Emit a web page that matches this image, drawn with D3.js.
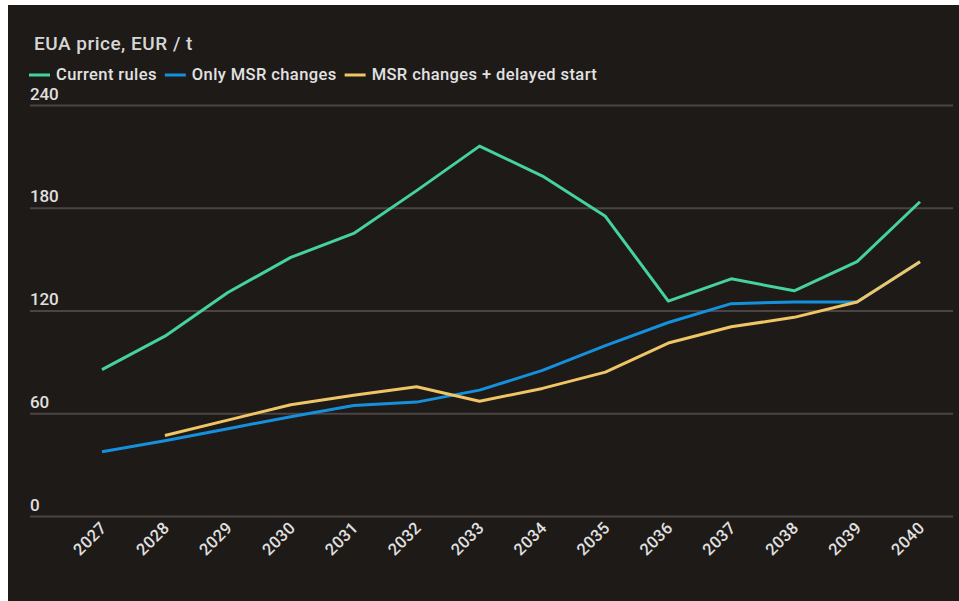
<!DOCTYPE html>
<html>
<head>
<meta charset="utf-8">
<script src="https://cdn.jsdelivr.net/npm/d3@7"></script>
<style>
  html, body { margin: 0; padding: 0; background: #ffffff; }
  svg { display: block; }
  text { font-family: Roboto, "Liberation Sans", Arial, sans-serif; }
</style>
</head>
<body>
<svg id="chart" width="959" height="601"></svg>
<script>
const years = ["2027","2028","2029","2030","2031","2032","2033","2034","2035","2036","2037","2038","2039","2040"];
const currentRules = [85.5, 105, 130.5, 151, 165, 190, 216, 198.5, 175, 125.5, 138.5, 131.5, 148.5, 183.5];
const onlyMSR = [37.5, 44, 51, 58, 64.5, 66.5, 73.5, 85, 99.5, 113, 124, 125, 125, 148.5];
const msrDelayed = [null, 47, 56, 65, 70.5, 75.5, 67, 74.5, 84, 101, 110.5, 116, 125, 148.5];
const yTicks = [0, 60, 120, 180, 240];
const seriesNames = ["Current rules", "Only MSR changes", "MSR changes + delayed start"];
const seriesColors = ["#45d29e", "#1590dc", "#efc565"];

const svg = d3.select("#chart");
svg.append("rect").attr("x", 8).attr("y", 5).attr("width", 951).attr("height", 596).attr("fill", "#1e1a17");

const x = d3.scalePoint().domain(years).range([102, 920]);
const y = d3.scaleLinear().domain([0, 240]).range([516, 105]);

// title
svg.append("text").attr("x", 34).attr("y", 50).attr("fill", "#d6d6d6")
  .attr("font-size", 19).attr("font-weight", 500).attr("letter-spacing", "0.5").text("EUA price, EUR / t");

// legend
const legend = svg.append("g");
let lx = 29;
seriesNames.forEach((n, i) => {
  legend.append("line").attr("x1", lx).attr("x2", lx + 21).attr("y1", 75).attr("y2", 75)
    .attr("stroke", seriesColors[i]).attr("stroke-width", 3);
  const t = legend.append("text").attr("x", lx + 27).attr("y", 80).attr("fill", "#e2e2e2")
    .attr("font-size", 16.5).attr("font-weight", 500).attr("letter-spacing", "0.4").text(n);
  lx += 27 + t.node().getComputedTextLength() + 8;
});

// gridlines + y labels
const yAxis = d3.axisLeft(y).tickValues(yTicks).tickSize(0).tickFormat(d3.format("d"));
const gy = svg.append("g").call(yAxis);
gy.select(".domain").remove();
gy.selectAll(".tick line").remove();
gy.selectAll(".tick").append("line").attr("x1", 30).attr("x2", 953)
  .attr("stroke", "#4a4542").attr("stroke-width", 2);
gy.selectAll(".tick text").attr("x", 30).attr("dy", -6).attr("text-anchor", "start")
  .attr("fill", "#e0e0e0").attr("font-size", 17).attr("font-weight", 500)
  .attr("font-family", "Roboto, Liberation Sans, Arial, sans-serif")
  .attr("letter-spacing", "-0.2");

// x labels
const xAxis = d3.axisBottom(x).tickSize(0);
const gx = svg.append("g").attr("transform", "translate(0,516)").call(xAxis);
gx.select(".domain").remove();
gx.selectAll(".tick text").attr("text-anchor", "end").attr("dy", 0).attr("y", 0)
  .attr("transform", "translate(5,13) rotate(-45)")
  .attr("fill", "#e0e0e0").attr("font-size", 16.5).attr("font-weight", 500)
  .attr("font-family", "Roboto, Liberation Sans, Arial, sans-serif")
  .attr("letter-spacing", "0.3");

// lines
const line = d3.line().defined(d => d.v !== null).x(d => x(d.year)).y(d => y(d.v));
[currentRules, onlyMSR, msrDelayed].forEach((vals, i) => {
  svg.append("path").datum(years.map((yr, j) => ({ year: yr, v: vals[j] })))
    .attr("d", line).attr("fill", "none").attr("stroke", seriesColors[i])
    .attr("stroke-width", 3).attr("stroke-linejoin", "round");
});
</script>
</body>
</html>
